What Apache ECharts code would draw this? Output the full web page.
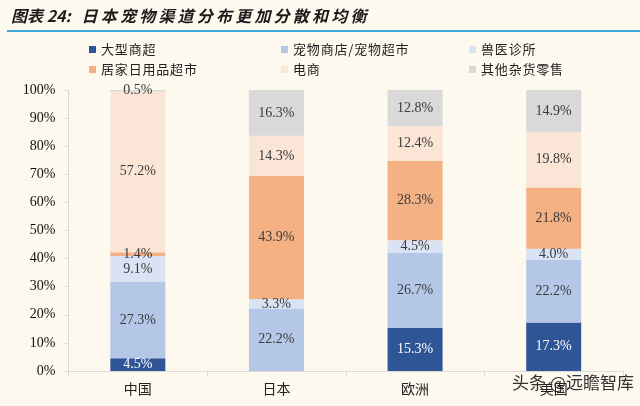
<!DOCTYPE html>
<html><head><meta charset="utf-8">
<script src="https://cdn.jsdelivr.net/npm/echarts@6/dist/echarts.min.js"></script>
<style>html,body{margin:0;padding:0;background:#fdf9ee;}#c{width:640px;height:406px;}</style>
</head><body><div id="c"></div>
<script>
const categories = ['中国', '日本', '欧洲', '美国'];
const yTicks = ['0%','10%','20%','30%','40%','50%','60%','70%','80%','90%','100%'];
const seriesNames = ['大型商超', '宠物商店/宠物超市', '兽医诊所', '居家日用品超市', '电商', '其他杂货零售'];
const bigSupermarket = [4.5, 0, 15.3, 17.3];
const petStore = [27.3, 22.2, 26.7, 22.2];
const vetClinic = [9.1, 3.3, 4.5, 4.0];
const homeStore = [1.4, 43.9, 28.3, 21.8];
const ecommerce = [57.2, 14.3, 12.4, 19.8];
const otherRetail = [0.5, 16.3, 12.8, 14.9];
const colors = ['#2f5597', '#b4c7e7', '#dae3f3', '#f4b183', '#fbe5d6', '#d9d9d9'];
const values = [bigSupermarket, petStore, vetClinic, homeStore, ecommerce, otherRetail];
const spaced = (s, sp) => s.split('').join(sp);

const chart = echarts.init(document.getElementById('c'));
const series = values.map((v, i) => ({
  name: seriesNames[i],
  type: 'bar',
  stack: 'total',
  barWidth: 55,
  data: v,
  itemStyle: { color: colors[i] },
  label: {
    show: true,
    position: 'inside',
    formatter: p => p.value > 0 ? p.value.toFixed(1) + '%' : '',
    fontFamily: 'Liberation Serif',
    fontSize: 14,
    color: i === 0 ? '#ffffff' : '#3a3a3a'
  }
}));

chart.setOption({
  backgroundColor: '#fdf9ee',
  animation: false,
  title: {
    text: '图表 24:   ' + spaced('日本宠物渠道分布更加分散和均衡', '\u2009'),
    left: 6, top: 3,
    textStyle: { fontFamily: 'Noto Sans CJK SC', fontStyle: 'italic', fontWeight: 'bold', fontSize: 16, color: '#1a1a1a' }
  },
  legend: [
    { data: [seriesNames[0], seriesNames[3]], left: 84, top: 38, orient: 'vertical', itemGap: 7 },
    { data: [seriesNames[1], seriesNames[4]], left: 276, top: 38, orient: 'vertical', itemGap: 7 },
    { data: [seriesNames[2], seriesNames[5]], left: 464, top: 38, orient: 'vertical', itemGap: 7 }
  ].map(l => Object.assign(l, {
    icon: 'rect', itemWidth: 7, itemHeight: 7,
    formatter: n => spaced(n, '\u200A'),
    textStyle: { fontFamily: 'Noto Sans CJK SC', fontSize: 13, color: '#222' }
  })),
  grid: { left: 68.5, right: 17, top: 90, bottom: 35 },
  xAxis: {
    type: 'category',
    data: categories,
    axisLine: { lineStyle: { color: '#d9d9d9' } },
    axisTick: { show: true, lineStyle: { color: '#d9d9d9' }, length: 5 },
    axisLabel: { fontFamily: 'Noto Sans CJK SC', fontSize: 14, color: '#222', margin: 11 }
  },
  yAxis: {
    type: 'value', min: 0, max: 100, interval: 10,
    axisLine: { show: true, lineStyle: { color: '#d9d9d9' } },
    axisTick: { show: true, lineStyle: { color: '#d9d9d9' }, length: 4 },
    splitLine: { show: false },
    axisLabel: {
      formatter: v => yTicks[Math.round(v / 10)],
      fontFamily: 'Liberation Serif', fontSize: 14, color: '#111', margin: 13
    }
  },
  series: series,
  graphic: [
    { type: 'rect', shape: { x: 7, y: 30, width: 633, height: 2 }, style: { fill: '#3fa9dd' } },
    { type: 'text', left: 512, top: 374, style: { text: '头条 @远瞻智库', fontFamily: 'Noto Sans CJK SC', fontSize: 17, fill: '#333' } }
  ]
});
</script></body></html>
